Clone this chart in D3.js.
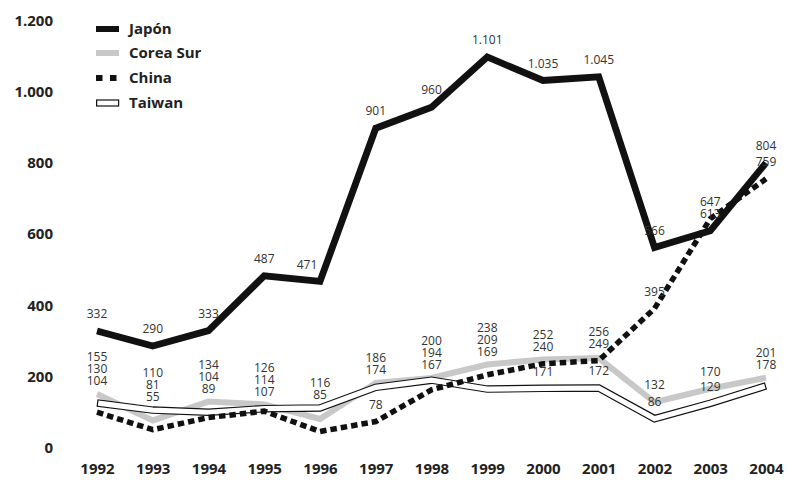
<!DOCTYPE html>
<html><head><meta charset="utf-8">
<script src="https://cdn.jsdelivr.net/npm/d3@7"></script>
<style>
html,body{margin:0;padding:0;background:#fff;}
svg{display:block;}
</style></head>
<body>
<script>
const years = [1992,1993,1994,1995,1996,1997,1998,1999,2000,2001,2002,2003,2004];
const japon  = [332,290,333,487,471,901,960,1101,1035,1045,566,613,804];
const corea  = [155,81,134,126,85,186,200,238,252,256,132,170,201];
const china  = [104,55,89,107,50,78,167,209,240,249,395,647,759];
const taiwan = [130,110,104,114,116,174,194,169,171,172,86,129,178];
const yTicks = [0,200,400,600,800,1000,1200];
const seriesNames = ["Japón","Corea Sur","China","Taiwan"];
const hiddenLabels = [{series:"China", year:1996}];

const W = 792, H = 487;
const loc = d3.formatLocale({decimal:",", thousands:".", grouping:[3], currency:["","€"]});
const fmt = loc.format(",d");

const svg = d3.select("body").append("svg").attr("width",W).attr("height",H);
const x = d3.scalePoint().domain(years).range([97,766]);
const y = d3.scaleLinear().domain([0,1200]).range([449.3,21.7]);

const series = [
  {name:"Corea Sur", values:corea, minor:true},
  {name:"Taiwan", values:taiwan, minor:true},
  {name:"China", values:china, minor:true},
  {name:"Japón", values:japon, minor:false}
];
const line = d3.line().x((d,i)=>x(years[i])).y(d=>y(d));

// Axes (no domain lines, no ticks)
const yAxis = d3.axisLeft(y).tickValues(yTicks).tickSize(0).tickPadding(0).tickFormat(fmt);
const gy = svg.append("g").attr("transform","translate(53,-1.5)").call(yAxis);
gy.select(".domain").remove();
gy.selectAll("text").attr("font-family","'Open Sans', sans-serif").attr("font-weight","bold")
  .attr("font-size","15px").attr("fill","#222");

const xAxis = d3.axisBottom(x).tickSize(0).tickPadding(0).tickFormat(d3.format("d"));
const gx = svg.append("g").attr("transform","translate(0,463)").call(xAxis);
gx.select(".domain").remove();
gx.selectAll("text").attr("font-family","'Open Sans', sans-serif").attr("font-weight","bold")
  .attr("font-size","15px").attr("fill","#222");

// Lines
const gL = svg.append("g");
gL.append("path").datum(corea).attr("d",line).attr("fill","none")
  .attr("stroke","#c8c8c8").attr("stroke-width",6).attr("stroke-linejoin","miter");
gL.append("path").datum(taiwan).attr("d",line).attr("fill","none")
  .attr("stroke","#111").attr("stroke-width",7.5).attr("stroke-linejoin","miter");
const tw = gL.append("path").datum(taiwan).attr("d",line).attr("fill","none")
  .attr("stroke","#fff").attr("stroke-width",5.2).attr("stroke-linejoin","miter");
const L = tw.node().getTotalLength();
tw.attr("stroke-dasharray", `${L-2.4} ${L+10}`).attr("stroke-dashoffset", -1.2);
gL.append("path").datum(china).attr("d",line).attr("fill","none")
  .attr("stroke","#111").attr("stroke-width",5.5).attr("stroke-dasharray","6.5,4");
gL.append("path").datum(japon).attr("d",line).attr("fill","none")
  .attr("stroke","#111").attr("stroke-width",6.8).attr("stroke-linejoin","miter");

// Value labels: minor series that lie close together are stacked above their group
const labels = [];
years.forEach((yr,i)=>{
  const items = series.map(s=>({name:s.name, minor:s.minor, v:s.values[i], next:s.values[i+1], yr}))
    .filter(d=>!hiddenLabels.some(h=>h.series===d.name && h.year===yr))
    .sort((a,b)=>a.v-b.v);
  const minors = items.filter(d=>d.minor);
  let cl = [], clusters = [];
  minors.forEach(d=>{
    if (cl.length && d.v - cl[cl.length-1].v > 40) { clusters.push(cl); cl = []; }
    cl.push(d);
  });
  if (cl.length) clusters.push(cl);
  clusters.forEach(c=>{
    const top = d3.max(c, d=>d.v);
    c.forEach(d=>{ d.base = Math.min(y(d.v)-17, y(top)-13); });
  });
  items.forEach(d=>{ if (!d.minor) d.base = y(d.v)-17; });
  let prev = Infinity;
  items.forEach(d=>{
    let ly = Math.min(d.base, prev - 12);
    d.ly = ly; prev = ly;
    // very steep rise right after the point: shift label left so the line does not cover it
    d.dx = (d.next !== undefined && d.next - d.v > 300) ? -13 : 0;
    labels.push(d);
  });
});
svg.append("g").selectAll("text").data(labels).join("text")
  .attr("x",d=>x(d.yr)+d.dx).attr("y",d=>d.ly).attr("dy","0.35em")
  .attr("text-anchor","middle")
  .attr("font-family","'Open Sans', sans-serif").attr("font-size","12px").attr("fill","#333")
  .text(d=>fmt(d.v));

// Legend
const lg = svg.append("g");
const rowY = [29,53,78,103];
seriesNames.forEach((n,k)=>{
  const g = lg.append("g").attr("transform",`translate(96,${rowY[k]})`);
  if (n==="Japón") g.append("rect").attr("x",0).attr("y",-3).attr("width",23).attr("height",6).attr("fill","#111");
  if (n==="Corea Sur") g.append("rect").attr("x",0).attr("y",-3).attr("width",23).attr("height",6).attr("fill","#c8c8c8");
  if (n==="China") g.append("line").attr("x1",0).attr("x2",21).attr("y1",0).attr("y2",0)
      .attr("stroke","#111").attr("stroke-width",6).attr("stroke-dasharray","6.5,7.5");
  if (n==="Taiwan") g.append("rect").attr("x",0.6).attr("y",-3).attr("width",22).attr("height",6)
      .attr("fill","#fff").attr("stroke","#111").attr("stroke-width",1.2);
  g.append("text").attr("x",33).attr("y",0).attr("dy","0.35em")
    .attr("font-family","'Open Sans', sans-serif").attr("font-weight","bold").attr("font-size","15px")
    .attr("fill","#222").text(n);
});
</script>
</body></html>
